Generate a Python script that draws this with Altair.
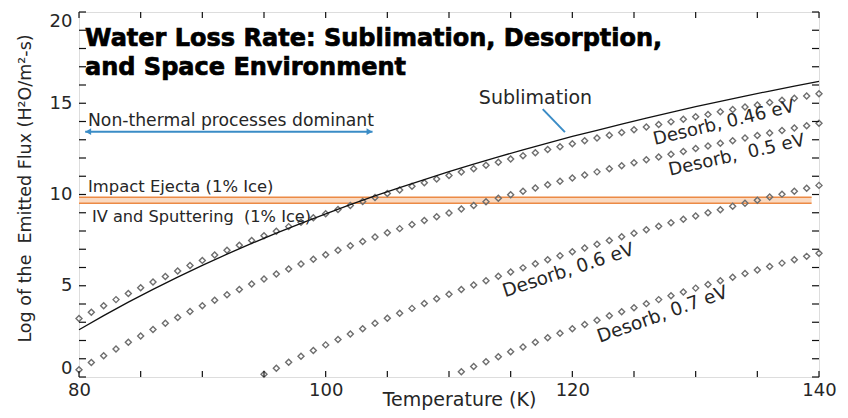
import altair as alt
import pandas as pd

# ---------------- data ----------------
temps_sub = list(range(80, 141, 2))
sublimation = [2.59, 3.36, 4.10, 4.80, 5.47, 6.12, 6.73, 7.32, 7.88, 8.42,
               8.94, 9.44, 9.92, 10.38, 10.82, 11.25, 11.66, 12.06, 12.45, 12.82,
               13.18, 13.52, 13.86, 14.18, 14.50, 14.81, 15.10, 15.39, 15.67, 15.94, 16.20]

temps_046 = list(range(80, 141))
desorb_046 = [3.20, 3.55, 3.90, 4.24, 4.57, 4.89, 5.21, 5.51, 5.81, 6.11,
              6.39, 6.68, 6.95, 7.22, 7.48, 7.74, 7.99, 8.24, 8.48, 8.72,
              8.95, 9.18, 9.40, 9.62, 9.84, 10.05, 10.25, 10.45, 10.65, 10.85,
              11.04, 11.23, 11.41, 11.60, 11.77, 11.95, 12.12, 12.29, 12.46, 12.62,
              12.78, 12.94, 13.10, 13.25, 13.40, 13.55, 13.70, 13.84, 13.98, 14.12,
              14.26, 14.39, 14.53, 14.66, 14.79, 14.91, 15.04, 15.16, 15.28, 15.40, 15.52]

temps_050 = list(range(80, 141))
desorb_050 = [0.40, 0.79, 1.17, 1.54, 1.90, 2.25, 2.60, 2.94, 3.26, 3.59,
              3.90, 4.21, 4.51, 4.80, 5.09, 5.37, 5.65, 5.92, 6.19, 6.45,
              6.70, 6.95, 7.19, 7.43, 7.67, 7.90, 8.13, 8.35, 8.57, 8.78,
              8.99, 9.20, 9.40, 9.60, 9.79, 9.99, 10.18, 10.36, 10.54, 10.72,
              10.90, 11.07, 11.24, 11.41, 11.58, 11.74, 11.90, 12.06, 12.21, 12.36,
              12.52, 12.66, 12.81, 12.95, 13.09, 13.23, 13.37, 13.51, 13.64, 13.77, 13.90]

temps_060 = list(range(95, 141))
desorb_060 = [0.15, 0.48, 0.81, 1.14, 1.45,
              1.76, 2.06, 2.36, 2.65, 2.94, 3.22, 3.49, 3.76, 4.03, 4.29,
              4.54, 4.79, 5.04, 5.28, 5.52, 5.75, 5.98, 6.21, 6.43, 6.65,
              6.86, 7.07, 7.28, 7.48, 7.68, 7.88, 8.07, 8.26, 8.45, 8.64,
              8.82, 9.00, 9.17, 9.35, 9.52, 9.69, 9.86, 10.02, 10.18, 10.34,
              10.50]

temps_070 = list(range(111, 141))
desorb_070 = [0.29, 0.57, 0.84, 1.11, 1.38, 1.64, 1.90, 2.15, 2.40,
              2.64, 2.88, 3.11, 3.35, 3.57, 3.80, 4.02, 4.24, 4.45, 4.66,
              4.87, 5.07, 5.28, 5.47, 5.67, 5.86, 6.05, 6.24, 6.42, 6.61,
              6.78]

band_levels = [9.52, 9.85]          # Impact ejecta / IV & sputtering levels
band_T = [80, 139.4]
nonthermal_T = [80.5, 103.8]
nonthermal_level = 13.44

x_labels = [80, 100, 120, 140]
y_labels = [0, 5, 10, 15, 20]
x_minor = list(range(80, 141, 5))
y_minor = list(range(0, 21, 1))

# ---------------- build tables ----------------
sub_df = pd.DataFrame({"T": temps_sub, "v": sublimation})
des_df = pd.concat([
    pd.DataFrame({"T": temps_046, "v": desorb_046, "s": "0.46"}),
    pd.DataFrame({"T": temps_050, "v": desorb_050, "s": "0.5"}),
    pd.DataFrame({"T": temps_060, "v": desorb_060, "s": "0.6"}),
    pd.DataFrame({"T": temps_070, "v": desorb_070, "s": "0.7"}),
], ignore_index=True)

W, H = 740, 365
FONT = "DejaVu Sans"
TXT = "#262626"
NB = "\u00a0"

xs = alt.Scale(domain=[80, 140], nice=False, zero=False)
ys = alt.Scale(domain=[0, 20], nice=False, zero=False)
xax = alt.Axis(values=x_labels, title="Temperature (K)", ticks=False, domain=False, grid=False,
               labelFont=FONT, labelFontSize=18, labelColor=TXT, labelPadding=4, labelFlush=False,
               titleFont=FONT, titleFontSize=19, titleFontWeight="normal", titleColor=TXT,
               titleX=380, titleY=28, titleBaseline="alphabetic")
yax = alt.Axis(values=y_labels, title=f"Log of the {NB}Emitted Flux (H²O/m²-s)", ticks=False, domain=False,
               grid=False, labelFont=FONT, labelFontSize=18, labelColor=TXT, labelPadding=7,
               labelFlush=True,
               titleFont=FONT, titleFontSize=17.5, titleFontWeight="normal", titleColor=TXT,
               titleX=-54, titleY=176, titleAngle=270, titleBaseline="middle")


def X(field=None, datum=None):
    if field is not None:
        return alt.X(field, type="quantitative", scale=xs, axis=xax)
    return alt.X(datum=datum, type="quantitative", scale=xs, axis=xax)


def Y(field=None, datum=None):
    if field is not None:
        return alt.Y(field, type="quantitative", scale=ys, axis=yax)
    return alt.Y(datum=datum, type="quantitative", scale=ys, axis=yax)


layers = []

# orange band
layers.append(alt.Chart(pd.DataFrame({"a": [0]})).mark_rect(color="#FAD9C0").encode(
    x=X(datum=band_T[0]), x2=alt.X2(datum=band_T[1]),
    y=Y(datum=band_levels[0]), y2=alt.Y2(datum=band_levels[1])))
layers.append(alt.Chart(pd.DataFrame({"v": band_levels})).mark_rule(color="#EC8A45", strokeWidth=1.6).encode(
    x=X(datum=band_T[0]), x2=alt.X2(datum=band_T[1]), y=Y("v")))

# diamonds
layers.append(alt.Chart(des_df).mark_point(shape="diamond", filled=False, size=36, color="#6e6e6e",
                                           strokeWidth=1.4, opacity=1).encode(
    x=X("T"), y=Y("v"), detail="s:N"))

# sublimation line
layers.append(alt.Chart(sub_df).mark_line(color="#111111", strokeWidth=1.3).encode(x=X("T"), y=Y("v")))

# non-thermal arrow
one = pd.DataFrame({"a": [0]})
BLUE = "#3A8CC6"
layers.append(alt.Chart(one).mark_rule(color=BLUE, strokeWidth=2).encode(
    x=X(datum=nonthermal_T[0]), x2=alt.X2(datum=nonthermal_T[1]), y=Y(datum=nonthermal_level)))
layers.append(alt.Chart(one).mark_point(shape="triangle-left", filled=True, size=45, color=BLUE, opacity=1).encode(
    x=X(datum=nonthermal_T[0] + 0.25), y=Y(datum=nonthermal_level)))
layers.append(alt.Chart(one).mark_point(shape="triangle-right", filled=True, size=45, color=BLUE, opacity=1).encode(
    x=X(datum=nonthermal_T[1] - 0.25), y=Y(datum=nonthermal_level)))
# sublimation pointer
layers.append(alt.Chart(one).mark_rule(color=BLUE, strokeWidth=2).encode(
    x=X(datum=117.6), y=Y(datum=14.68), x2=alt.X2(datum=119.4), y2=alt.Y2(datum=13.42)))


def text(s, T, v, **kw):
    opts = dict(font=FONT, fontSize=16.5, color=TXT)
    opts.update(kw)
    return alt.Chart(one).mark_text(text=s, **opts).encode(x=X(datum=T), y=Y(datum=v))


TITLE = dict(align="left", baseline="alphabetic", font="DejaVu Sans", fontSize=24, fontWeight="bold",
             color="#000000", stroke="#000000", strokeWidth=0.7)
layers.append(text("Water Loss Rate: Sublimation, Desorption,", 80.49, 18.11, **TITLE))
layers.append(text("and Space Environment", 80.49, 16.55, **TITLE))
layers.append(text("Non-thermal processes dominant", 80.73, 13.75, align="left", baseline="alphabetic",
                   fontSize=17.2))
layers.append(text("Impact Ejecta (1% Ice)", 80.73, 10.15, align="left", baseline="alphabetic", fontSize=16.4))
layers.append(text(f"IV and Sputtering {NB}(1% Ice)", 81.05, 8.51, align="left", baseline="alphabetic",
                   fontSize=16.2))
layers.append(text("Sublimation", 117.01, 14.94, align="center", baseline="alphabetic", fontSize=19))
layers.append(text("Desorb, 0.46 eV", 132.30, 13.90, align="center", baseline="middle", angle=346.5,
                   fontSize=18))
layers.append(text(f"Desorb, {NB}0.5 eV", 133.33, 12.13, align="center", baseline="middle", angle=347.3,
                   fontSize=18))
layers.append(text("Desorb, 0.6 eV", 119.67, 5.86, align="center", baseline="middle", angle=341.8,
                   fontSize=18.5))
layers.append(text("Desorb, 0.7 eV", 127.30, 3.44, align="center", baseline="middle", angle=340.4,
                   fontSize=18.5))

# inward ticks
xt = pd.DataFrame({"T": x_minor})
yt = pd.DataFrame({"v": y_minor})
layers.append(alt.Chart(xt).mark_rule(color="#111", strokeWidth=1.2).encode(
    x=X("T"), y=alt.value(H), y2=alt.value(H - 6)))
layers.append(alt.Chart(xt).mark_rule(color="#111", strokeWidth=1.2).encode(
    x=X("T"), y=alt.value(0), y2=alt.value(6)))
layers.append(alt.Chart(yt).mark_rule(color="#111", strokeWidth=1.2).encode(
    y=Y("v"), x=alt.value(0), x2=alt.value(7)))
layers.append(alt.Chart(yt).mark_rule(color="#111", strokeWidth=1.2).encode(
    y=Y("v"), x=alt.value(W), x2=alt.value(W - 7)))

chart = alt.layer(*layers).properties(
    width=W, height=H,
    autosize=alt.AutoSizeParams(type="none"),
    padding={"left": 71, "top": 4, "right": 21, "bottom": 33},
).configure_view(stroke="#111111", strokeWidth=1.6).configure(background="white")

chart.save("out.html", embed_options={"renderer": "svg", "actions": False})
